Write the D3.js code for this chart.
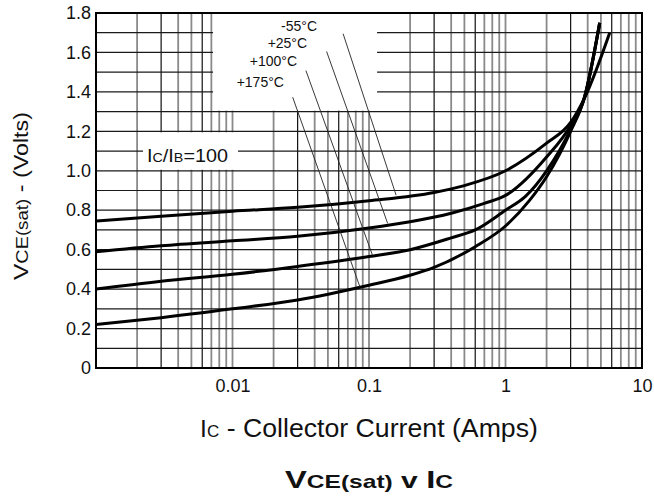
<!DOCTYPE html>
<html lang="en">
<head>
<meta charset="UTF-8">
<script src="https://cdn.jsdelivr.net/npm/d3@7"></script>
<style>
  body { margin: 0; background: #fff; }
  text { font-family: 'Liberation Sans', Arial, sans-serif; fill: #111; }
</style>
</head>
<body>
<script>
  // collector current (A) and Vce(sat) (V)
  var ic_m55  = [0.001, 0.003, 0.01, 0.03, 0.1, 0.3, 0.5, 1, 2, 3, 3.8, 5.8];
  var vce_m55 = [0.745, 0.77, 0.795, 0.815, 0.848, 0.89, 0.925, 1.0, 1.14, 1.245, 1.37, 1.70];

  var ic_p25  = [0.001, 0.003, 0.01, 0.03, 0.1, 0.2, 0.4, 0.7, 1, 2, 3, 3.8, 4.9];
  var vce_p25 = [0.59, 0.62, 0.645, 0.668, 0.71, 0.742, 0.785, 0.835, 0.875, 1.07, 1.23, 1.375, 1.75];

  var ic_p100  = [0.001, 0.003, 0.01, 0.03, 0.1, 0.2, 0.4, 0.6, 1, 1.4, 2, 3, 3.8, 4.9];
  var vce_p100 = [0.40, 0.44, 0.475, 0.515, 0.565, 0.60, 0.66, 0.70, 0.80, 0.87, 1.0, 1.21, 1.375, 1.75];

  var ic_p175  = [0.001, 0.003, 0.01, 0.03, 0.1, 0.2, 0.3, 0.6, 1, 1.5, 2, 3, 3.8, 4.9];
  var vce_p175 = [0.22, 0.255, 0.30, 0.345, 0.42, 0.47, 0.51, 0.615, 0.72, 0.85, 0.97, 1.20, 1.375, 1.75];

  var tempLabels = ['-55°C', '+25°C', '+100°C', '+175°C'];
  // label anchor (right end) and leader line from label to curve, in data units
  var labelAt   = [[0.0416, 1.71], [0.0352, 1.624], [0.0297, 1.529], [0.0238, 1.427]];
  var leaderFrom = [[0.0646, 1.695], [0.0489, 1.605], [0.0345, 1.508], [0.0276, 1.373]];
  var leaderTo   = [[0.158, 0.876], [0.137, 0.733], [0.106, 0.572], [0.0859, 0.41]];

  var xTickValues = [0.01, 0.1, 1, 10];
  var yTickValues = [0, 0.2, 0.4, 0.6, 0.8, 1.0, 1.2, 1.4, 1.6, 1.8];

  var width = 654,
      height = 500;

  var x = d3.scaleLog().domain([0.001, 10]).range([96, 642]);
  var y = d3.scaleLinear().domain([0, 1.8]).range([368, 13]);

  var svg = d3.select('body').append('svg')
    .attr('width', width)
    .attr('height', height);

  // grid
  var grid = svg.append('g');
  grid.selectAll('.vg')
    .data(x.ticks().filter(function(d) { return d > 0.001 && d < 10; }))
    .enter().append('line')
    .attr('x1', function(d) { return x(d); })
    .attr('x2', function(d) { return x(d); })
    .attr('y1', y(1.8))
    .attr('y2', y(0))
    .attr('stroke', function(d) {
      var k = Math.round(d / Math.pow(10, Math.floor(Math.log10(d) + 1e-9)));
      return (k === 3 || k === 6) ? '#111' : '#8a8a8a';
    })
    .attr('stroke-width', function(d) {
      var k = Math.round(d / Math.pow(10, Math.floor(Math.log10(d) + 1e-9)));
      return (k === 3 || k === 6) ? 1.2 : 1.8;
    });

  grid.selectAll('.hg')
    .data(y.ticks(18).filter(function(d) { return d > 0 && d < 1.8; }))
    .enter().append('line')
    .attr('x1', x(0.001))
    .attr('x2', x(10))
    .attr('y1', function(d) { return y(d); })
    .attr('y2', function(d) { return y(d); })
    .attr('stroke', '#1a1a1a')
    .attr('stroke-width', 1.2);

  // white areas behind the labels
  svg.append('rect')
    .attr('x', x(0.0072)).attr('y', y(1.8) + 1)
    .attr('width', x(0.1146) - x(0.0072))
    .attr('height', y(1.3) - y(1.8) - 2)
    .attr('fill', '#fff');
  svg.append('rect')
    .attr('x', x(0.00221)).attr('y', y(1.2) + 1)
    .attr('width', x(0.01097) - x(0.00221))
    .attr('height', y(1.0) - y(1.2) - 2)
    .attr('fill', '#fff');

  // frame
  svg.append('rect')
    .attr('x', x(0.001)).attr('y', y(1.8))
    .attr('width', x(10) - x(0.001))
    .attr('height', y(0) - y(1.8))
    .attr('fill', 'none')
    .attr('stroke', '#000')
    .attr('stroke-width', 2);

  // curves
  var series = [
    d3.zip(ic_m55, vce_m55),
    d3.zip(ic_p25, vce_p25),
    d3.zip(ic_p100, vce_p100),
    d3.zip(ic_p175, vce_p175)
  ];
  var line = d3.line()
    .x(function(d) { return x(d[0]); })
    .y(function(d) { return y(d[1]); })
    .curve(d3.curveMonotoneX);

  svg.selectAll('.curve')
    .data(series)
    .enter().append('path')
    .attr('d', line)
    .attr('fill', 'none')
    .attr('stroke', '#000')
    .attr('stroke-width', 3)
    .attr('stroke-linejoin', 'round');

  // leader lines + temperature labels
  svg.selectAll('.leader')
    .data(d3.range(4))
    .enter().append('line')
    .attr('x1', function(i) { return x(leaderFrom[i][0]); })
    .attr('y1', function(i) { return y(leaderFrom[i][1]); })
    .attr('x2', function(i) { return x(leaderTo[i][0]); })
    .attr('y2', function(i) { return y(leaderTo[i][1]); })
    .attr('stroke', '#222')
    .attr('stroke-width', 0.9);

  svg.selectAll('.tlabel')
    .data(tempLabels)
    .enter().append('text')
    .attr('x', function(d, i) { return x(labelAt[i][0]); })
    .attr('y', function(d, i) { return y(labelAt[i][1]); })
    .attr('text-anchor', 'end')
    .style('font-size', '14px')
    .text(function(d) { return d; });

  // axes
  var yAxis = svg.append('g')
    .attr('transform', 'translate(' + x(0.001) + ',0)')
    .call(d3.axisLeft(y).tickValues(yTickValues).tickSize(0).tickPadding(5)
      .tickFormat(function(d) { return d === 0 ? '0' : d3.format('.1f')(d); }));
  yAxis.select('.domain').remove();

  var xAxis = svg.append('g')
    .attr('transform', 'translate(0,' + y(0) + ')')
    .call(d3.axisBottom(x).tickValues(xTickValues).tickSize(0).tickPadding(11)
      .tickFormat(d3.format('~g')));
  xAxis.select('.domain').remove();

  svg.selectAll('.tick text')
    .style('font-size', '18px')
    .style('font-family', "'Liberation Sans', Arial, sans-serif")
    .attr('fill', '#111');

  // text made of runs with different sizes, stretched to a given width
  function richText(cx, cy, rotate, anchor, parts, targetW, bold) {
    var g = svg.append('g');
    var t = g.append('text')
      .attr('text-anchor', anchor)
      .style('font-weight', bold ? 'bold' : 'normal');
    parts.forEach(function(p) {
      t.append('tspan').style('font-size', p[1] + 'px').text(p[0]);
    });
    var s = targetW / t.node().getBBox().width;
    g.attr('transform', 'translate(' + cx + ',' + cy + ')' +
      (rotate ? ' rotate(-90)' : '') + ' scale(' + s + ',1)');
  }

  richText(147, 161.5, false, 'start',
    [['I', 18], ['C', 13], ['/', 18], ['I', 18], ['B', 13], ['=100', 18]], 81);

  richText(28, 196, true, 'middle',
    [['V', 21], ['CE', 17], ['(sat)', 16], [' - (Volts)', 20]], 168);

  richText(369, 437, false, 'middle',
    [['I', 23], ['C', 16], [' - Collector Current (Amps)', 25]], 338);

  richText(369, 488, false, 'middle',
    [['V', 24], ['CE', 18], ['(sat)', 18], [' v ', 22], ['I', 24], ['C', 18]], 168, true);
</script>
</body>
</html>
